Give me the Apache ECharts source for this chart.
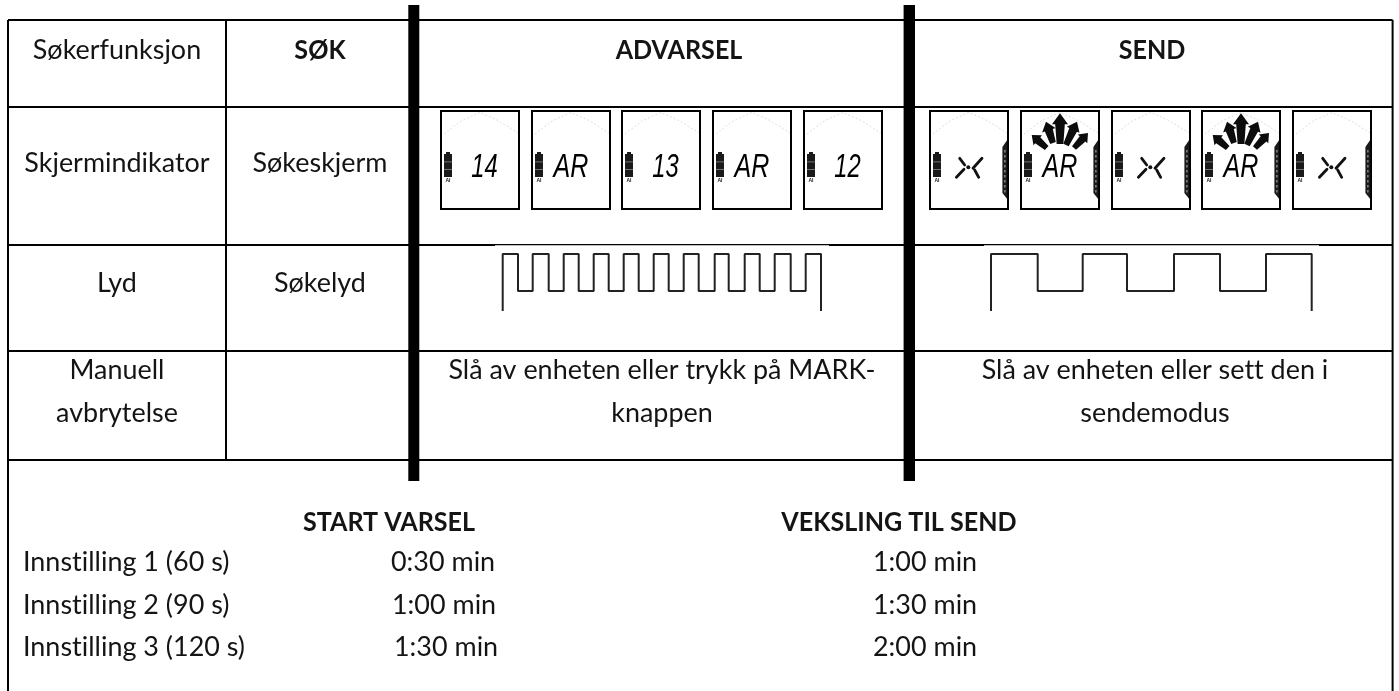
<!DOCTYPE html>
<html><head><meta charset="utf-8">
<style>html,body{margin:0;padding:0;background:#fff}#c{width:1399px;height:691px}</style>
<script src="https://cdn.jsdelivr.net/npm/echarts@6/dist/echarts.min.js"></script>
</head><body><div id="c"></div>
<script>
// Lato's tt / st ligatures do not occur in the reference: a tiny letter spacing switches them off.
['fillText', 'measureText'].forEach(fn => {
  const orig = CanvasRenderingContext2D.prototype[fn];
  CanvasRenderingContext2D.prototype[fn] = function () { this.letterSpacing = '0.01px'; return orig.apply(this, arguments); };
});
// ---- content ----
const rowLabels = ['Søkerfunksjon', 'Skjermindikator', 'Lyd', 'Manuell', 'avbrytelse'];
const searchColumn = ['SØK', 'Søkeskjerm', 'Søkelyd'];
const modeHeaders = ['ADVARSEL', 'SEND'];
const cancelAdvarsel = ['Slå av enheten eller trykk på MARK-', 'knappen'];
const cancelSend = ['Slå av enheten eller sett den i', 'sendemodus'];
const settingHeaders = ['START VARSEL', 'VEKSLING TIL SEND'];
const settingLabels = ['Innstilling 1 (60 s)', 'Innstilling 2 (90 s)', 'Innstilling 3 (120 s)'];
const startTimes = ['0:30 min', '1:00 min', '1:30 min'];
const switchTimes = ['1:00 min', '1:30 min', '2:00 min'];
const advarselDisplays = ['14', 'AR', '13', 'AR', '12'];
const sendDisplays = ['star', 'AR', 'star', 'AR', 'star'];
const advarselEdges = [0, 15.3, 30, 46, 61, 76, 91, 106, 121, 136, 151, 166, 181, 196, 212, 226, 242, 257, 272, 288, 303, 318.3];
const advarselLevels = [1, 0, 1, 0, 1, 0, 1, 0, 1, 0, 1, 0, 1, 0, 1, 0, 1, 0, 1, 0, 1];
const sendEdges = [0, 46.7, 91.7, 136, 183, 229, 275, 320.7];
const sendLevels = [1, 0, 1, 0, 1, 0, 1];
const tailLevel = -0.54;

// ---- layout ----
const INK = '#141414', FONT = 'Lato', SX = 1.035, SXB = 0.965, FS = 26;
const L = 8, R = 1392.6, rows = [20, 107, 245, 351, 460];
const col2 = 226, bars = [[408.3, 419.3], [903.6, 915]], barTop = 5, barBot = 481;
const advX = [441, 532, 622, 713, 804], sendX = [930, 1021, 1112, 1202, 1293];
const panelY = 111, panelW = 78, panelH = 98;

function stepLine(edges, levels) {
  const pts = [[edges[0], tailLevel]];
  levels.forEach((lv, i) => { pts.push([edges[i], lv], [edges[i + 1], lv]); });
  pts.push([edges[edges.length - 1], tailLevel]);
  return pts;
}
const cells = [];
const put = (t, x, y, align, bold) => cells.push({ t, x, y: y + 1, align, bold });
const cCol1 = 117, cCol2 = 320, cAdv = 662, cSend = 1155;
put(rowLabels[0], cCol1, 50, 'center'); put(rowLabels[1], cCol1, 163, 'center');
put(rowLabels[2], cCol1, 283, 'center'); put(rowLabels[3], cCol1, 370, 'center'); put(rowLabels[4], cCol1, 413, 'center');
put(searchColumn[0], cCol2, 50, 'center', true); put(searchColumn[1], cCol2, 163, 'center'); put(searchColumn[2], cCol2, 283, 'center');
put(modeHeaders[0], 679, 50, 'center', true); put(modeHeaders[1], 1152, 50, 'center', true);
put(cancelAdvarsel[0], cAdv, 370, 'center'); put(cancelAdvarsel[1], cAdv, 413, 'center');
put(cancelSend[0], cSend, 370, 'center'); put(cancelSend[1], cSend, 413, 'center');
put(settingHeaders[0], 389, 522, 'center', true); put(settingHeaders[1], 899, 522, 'center', true);
const setY = [562, 605, 647], startX = [391, 392, 394];
settingLabels.forEach((s, i) => { put(s, 23, setY[i], 'left'); put(startTimes[i], startX[i], setY[i], 'left'); put(switchTimes[i], 873, setY[i], 'left'); });

const panels = [];
advarselDisplays.forEach((d, i) => panels.push({ x: advX[i], d, send: false }));
sendDisplays.forEach((d, i) => panels.push({ x: sendX[i], d, send: true }));

function arrow(tip, base, hw, hl) {
  const dx = tip[0] - base[0], dy = tip[1] - base[1], n = Math.hypot(dx, dy), ux = dx / n, uy = dy / n, px = -uy, py = ux;
  const at = (d, w) => [tip[0] - ux * d + px * w, tip[1] - uy * d + py * w];
  return [tip, at(hl, hw), at(hl, hw * 0.6), [base[0] + px * hw * 0.42, base[1] + py * hw * 0.42], [base[0] - px * hw * 0.42, base[1] - py * hw * 0.42], at(hl, -hw * 0.6), at(hl, -hw)];
}
const arrowSpecs = [[[39, 2.3], [39, 33], 8, 11], [[25, 10.7], [32, 32], 7, 9], [[56, 10.7], [45, 34], 7, 9], [[10.7, 24], [25.7, 37], 6.5, 8], [[67, 22], [53, 37], 6.5, 8]];
const starStrokes = [[[29.7, 47.3], [34.7, 54]], [[52, 47.3], [43, 57.3]], [[26.4, 66.3], [34, 58.3]], [[44.7, 59], [48.7, 66.3]]];

function renderPanel(p, api) {
  const pt = (rx, ry) => api.coord([p.x + rx, panelY + ry]);
  const o = pt(0, 0), kids = [];
  kids.push({ type: 'rect', shape: { x: o[0], y: o[1], width: panelW, height: panelH }, style: { fill: '#fff', stroke: '#000', lineWidth: 2 } });
  kids.push({ type: 'polyline', shape: { points: [pt(3, 23), pt(20, 10), pt(39, 1.5), pt(58, 10), pt(77, 22)] }, style: { fill: null, stroke: '#d4d4d4', lineWidth: 0.8, lineDash: [2, 2] } });
  // battery
  kids.push({ type: 'rect', shape: { x: o[0] + 3, y: o[1] + 43, width: 8, height: 23 }, style: { fill: '#1a1a1a' } });
  kids.push({ type: 'rect', shape: { x: o[0] + 5, y: o[1] + 41, width: 4, height: 2 }, style: { fill: '#1a1a1a' } });
  [50.5, 58].forEach(ry => kids.push({ type: 'rect', shape: { x: o[0] + 3, y: o[1] + ry, width: 8, height: 0.8 }, style: { fill: '#888' } }));
  kids.push({ type: 'text', x: o[0] + 7, y: o[1] + 69.5, style: { text: 'AI', fill: '#222', font: 'bold 5px "Liberation Sans"', align: 'center', verticalAlign: 'middle' } });
  if (p.send) {
    kids.push({ type: 'polygon', shape: { points: [pt(77.2, 29), pt(72.4, 36), pt(72.4, 82), pt(77.2, 88)] }, style: { fill: '#1a1a1a' } });
    for (let k = 0; k < 9; k++) kids.push({ type: 'rect', shape: { x: o[0] + 74.4, y: o[1] + 39 + k * 5, width: 1, height: 2.6 }, style: { fill: '#bbb' } });
  }
  if (p.d === 'star') {
    starStrokes.forEach(s => kids.push({ type: 'line', shape: { x1: o[0] + s[0][0], y1: o[1] + s[0][1], x2: o[0] + s[1][0], y2: o[1] + s[1][1] }, style: { stroke: '#111', lineWidth: 2.8, lineCap: 'round' } }));
    kids.push({ type: 'circle', shape: { cx: o[0] + 38.3, cy: o[1] + 56.3, r: 2 }, style: { fill: '#111' } });
  } else {
    const isAR = p.d === 'AR';
    kids.push({ type: 'text', x: o[0] + (isAR ? 39 : 43.5), y: o[1] + 57, scaleX: isAR ? 0.76 : 0.72, style: { text: p.d, fill: '#000', font: 'italic 33px "Liberation Sans"', align: 'center', verticalAlign: 'middle' } });
  }
  if (p.send && p.d === 'AR') {
    arrowSpecs.forEach(a => kids.push({ type: 'polygon', shape: { points: arrow(a[0], a[1], a[2], a[3]).map(q => pt(q[0], q[1])) }, style: { fill: '#0c0c0c' } }));
  }
  return { type: 'group', children: kids };
}

const hLines = rows.map(y => [L, y, R, y]);
const vLines = [[L, 20, L, 691], [R, 20, R, 691], [col2, 20, col2, 460]];
const ruleData = hLines.concat(vLines);

const axisOff = { type: 'value', show: false };
const option = {
  animation: false,
  backgroundColor: '#fff',
  grid: [
    { left: 0, top: 0, width: 1399, height: 691 },
    { left: 502.7, top: 254, width: 318.3, height: 57 },
    { left: 991, top: 254, width: 320.7, height: 57 }
  ],
  xAxis: [
    Object.assign({ gridIndex: 0, min: 0, max: 1399 }, axisOff),
    Object.assign({ gridIndex: 1, min: 0, max: 318.3 }, axisOff),
    Object.assign({ gridIndex: 2, min: 0, max: 320.7 }, axisOff)
  ],
  yAxis: [
    Object.assign({ gridIndex: 0, min: 0, max: 691, inverse: true }, axisOff),
    Object.assign({ gridIndex: 1, min: tailLevel, max: 1 }, axisOff),
    Object.assign({ gridIndex: 2, min: tailLevel, max: 1 }, axisOff)
  ],
  series: [
    { type: 'custom', name: 'rules', coordinateSystem: 'cartesian2d', xAxisIndex: 0, yAxisIndex: 0, silent: true, clip: false, z: 1,
      data: ruleData,
      encode: { x: [0, 2], y: [1, 3] },
      renderItem: (_, api) => { const a = api.coord([api.value(0), api.value(1)]), b = api.coord([api.value(2), api.value(3)]);
        return { type: 'line', shape: { x1: a[0], y1: a[1], x2: b[0], y2: b[1] }, style: { stroke: '#000', lineWidth: 2 } }; } },
    { type: 'custom', name: 'bars', xAxisIndex: 0, yAxisIndex: 0, silent: true, clip: false, z: 3,
      data: bars.map(b => [b[0], barTop, b[1], barBot]),
      encode: { x: [0, 2], y: [1, 3] },
      renderItem: (_, api) => { const a = api.coord([api.value(0), api.value(1)]), b = api.coord([api.value(2), api.value(3)]);
        return { type: 'rect', shape: { x: a[0], y: a[1], width: b[0] - a[0], height: b[1] - a[1] }, style: { fill: '#000' } }; } },
    { type: 'custom', name: 'rule gaps', xAxisIndex: 0, yAxisIndex: 0, silent: true, clip: false, z: 2,
      data: [[495, 245.2, 829, 247], [984, 245.2, 1319, 247]],
      encode: { x: [0, 2], y: [1, 3] },
      renderItem: (_, api) => { const a = api.coord([api.value(0), api.value(1)]), b = api.coord([api.value(2), api.value(3)]);
        return { type: 'rect', shape: { x: a[0], y: a[1], width: b[0] - a[0], height: b[1] - a[1] }, style: { fill: '#fff' } }; } },
    { type: 'custom', name: 'panels', xAxisIndex: 0, yAxisIndex: 0, silent: true, clip: false, z: 4,
      data: panels.map((p, i) => [p.x, i]),
      renderItem: (params, api) => renderPanel(panels[params.dataIndex], api) },
    { type: 'custom', name: 'text', xAxisIndex: 0, yAxisIndex: 0, silent: true, clip: false, z: 5,
      data: cells.map(c => [c.x, c.y]),
      renderItem: (params, api) => { const c = cells[params.dataIndex], p = api.coord([c.x, c.y]);
        return { type: 'text', x: p[0], y: p[1], scaleX: c.bold ? SXB : SX, style: { text: c.t, fill: INK, font: (c.bold ? 'bold ' : '') + FS + 'px ' + FONT, align: c.align, verticalAlign: 'middle' } }; } },
    { type: 'line', name: 'Advarsel', xAxisIndex: 1, yAxisIndex: 1, data: stepLine(advarselEdges, advarselLevels), showSymbol: false, silent: true, clip: false, z: 6,
      lineStyle: { color: '#222', width: 2 } },
    { type: 'line', name: 'Send', xAxisIndex: 2, yAxisIndex: 2, data: stepLine(sendEdges, sendLevels), showSymbol: false, silent: true, clip: false, z: 6,
      lineStyle: { color: '#222', width: 2 } }
  ]
};
echarts.init(document.getElementById('c'), null, { renderer: 'canvas' }).setOption(option);
</script></body></html>
